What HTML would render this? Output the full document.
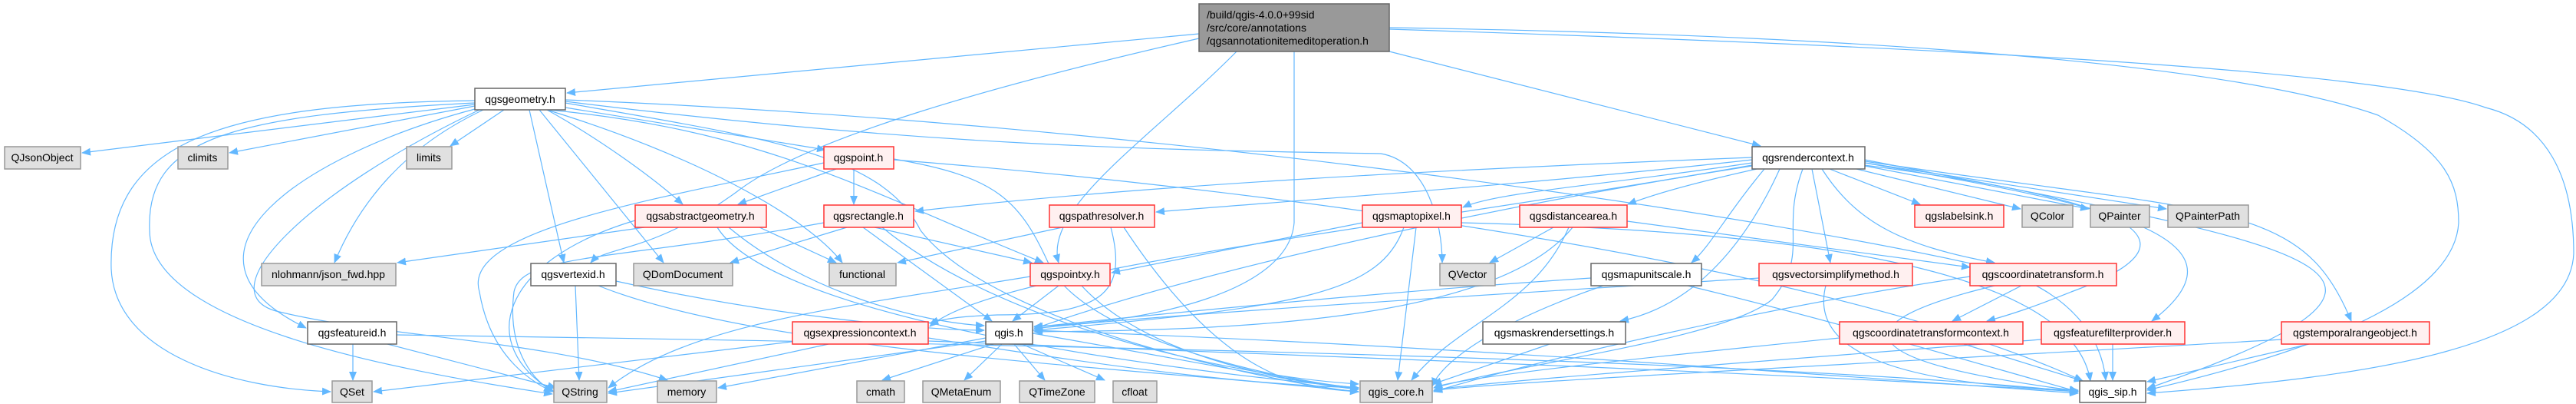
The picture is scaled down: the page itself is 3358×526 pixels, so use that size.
<!DOCTYPE html>
<html><head><meta charset="utf-8"><style>
html,body{margin:0;padding:0;background:#fff;}
svg{display:block;}
text{font-family:"Liberation Sans",sans-serif;font-size:14px;fill:#000;}
.e{fill:none;stroke:#63b8ff;stroke-width:1.2;}
.w{fill:#fff;stroke:#666;stroke-width:1.5;}
.r{fill:#fff0f0;stroke:#f33;stroke-width:1.5;}
.g{fill:#e0e0e0;stroke:#999;stroke-width:1.5;}
</style></head><body>
<svg width="3358" height="526" viewBox="0 0 3358 526" xmlns="http://www.w3.org/2000/svg">
<defs><marker id="a" markerWidth="12" markerHeight="10" refX="11" refY="5" orient="auto" markerUnits="userSpaceOnUse"><path d="M0,0 L12,5 L0,10 z" fill="#63b8ff"/></marker></defs>
<g class="e" marker-end="url(#a)">
<!-- build -->
<path d="M1563,44 L739,121"/>
<path d="M1563,50 C1300,110 1050,180 960,250 C850,330 790,320 770,342"/>
<path d="M1612,67 C1500,180 1360,270 1380,342"/>
<path d="M1687,67 L1687,290 C1680,380 1500,420 1348,425"/>
<path d="M1811,67 L2295,190"/>
<path d="M1811,36 C2400,45 2900,80 3100,150 C3190,200 3205,240 3205,290 C3200,380 3050,450 2799,508"/>
<path d="M1811,38 C2500,60 3100,90 3240,140 C3320,160 3355,230 3355,330 C3350,450 3100,490 2799,512"/>
<!-- geometry -->
<path d="M619,136 L107,199"/>
<path d="M619,138 L299,199"/>
<path d="M657,143 L587,190"/>
<path d="M630,143 C530,190 470,260 436,342"/>
<path d="M690,143 L735,342"/>
<path d="M703,143 L865,342"/>
<path d="M713,143 C780,180 850,230 890,266"/>
<path d="M737,140 L1076,195"/>
<path d="M713,143 C900,200 1050,280 1098,342"/>
<path d="M619,142 C400,200 200,330 399,427"/>
<path d="M619,131 C300,135 140,180 145,350 C150,460 300,505 431,510"/>
<path d="M619,134 C300,150 190,180 195,300 C195,420 500,480 720,513"/>
<path d="M625,143 C400,250 270,380 360,405 C500,440 700,440 870,495"/>
<path d="M737,134 C1000,180 1150,200 1200,300 C1300,430 1700,505 1771,510"/>
<path d="M737,130 C1500,160 2300,280 2600,350 C2700,380 2740,440 2745,495"/>
<path d="M737,132 C1200,190 1500,195 1800,200 C1860,210 1880,290 1880,342"/>
<path d="M715,143 C1000,170 1130,250 1360,342"/>
<!-- qgspoint -->
<path d="M1090,220 L962,266"/>
<path d="M1113,220 L1113,266"/>
<path d="M1074,212 C850,260 600,300 625,380 C640,470 700,500 720,510"/>
<path d="M1165,207 C1300,230 1330,260 1370,350 C1430,450 1700,500 1771,505"/>
<path d="M1165,208 C1700,250 2400,350 2715,496"/>
<!-- abstractgeometry -->
<path d="M840,296 L518,342"/>
<path d="M828,287 C650,340 620,450 722,510"/>
<path d="M950,296 C1050,380 1200,420 1283,424"/>
<path d="M990,296 L1090,342"/>
<path d="M935,296 C1000,400 1400,470 1771,505"/>
<!-- rectangle -->
<path d="M1104,296 L952,342"/>
<path d="M1074,290 C800,340 680,330 670,380 C660,460 700,500 722,510"/>
<path d="M1140,296 L1345,342"/>
<path d="M1125,296 L1293,418"/>
<path d="M1150,296 C1300,420 1600,490 1771,500"/>
<!-- pathresolver -->
<path d="M1385,296 L1170,342"/>
<path d="M1448,296 C1470,380 1440,410 1300,410 C1250,412 1230,415 1212,421"/>
<path d="M1465,296 C1600,500 1700,505 1771,510"/>
<!-- maptopixel -->
<path d="M1776,290 L1449,355"/>
<path d="M1830,296 C1800,380 1700,400 1348,430"/>
<path d="M1846,296 L1822,495"/>
<path d="M1905,290 C2300,300 2700,340 2725,496"/>
<!-- distancearea -->
<path d="M2025,296 L1942,342"/>
<path d="M2045,296 C2000,400 1900,420 1840,495"/>
<path d="M2121,288 L2568,348"/>
<path d="M2050,296 C1950,420 1600,430 1348,432"/>
<!-- pointxy -->
<path d="M1380,372 L1320,418"/>
<path d="M1343,360 C1100,400 900,420 793,505"/>
<path d="M1410,372 C1500,470 1700,500 1771,505"/>
<!-- vertexid -->
<path d="M750,372 L755,495"/>
<path d="M803,366 C1000,410 1200,430 1283,430"/>
<path d="M780,372 C1000,460 1500,480 1771,510"/>
<!-- featureid -->
<path d="M460,448 L460,495"/>
<path d="M505,448 L725,505"/>
<path d="M517,436 C1500,450 2300,470 2709,510"/>
<!-- expressioncontext -->
<path d="M1040,444 L487,510"/>
<path d="M1080,448 L793,510"/>
<path d="M1210,440 C1400,470 1600,500 1771,505"/>
<path d="M1210,444 C1900,470 2400,490 2709,510"/>
<!-- qgis.h -->
<path d="M1295,448 L1150,495"/>
<path d="M1306,448 L1257,495"/>
<path d="M1322,448 L1362,495"/>
<path d="M1332,448 L1440,495"/>
<path d="M1285,440 L936,505"/>
<path d="M1285,444 L793,512"/>
<path d="M1346,434 C1500,460 1700,500 1771,507"/>
<path d="M1346,430 C1900,450 2400,490 2709,512"/>
<!-- mapunitscale -->
<path d="M2074,362 C1800,380 1500,410 1348,426"/>
<path d="M2090,372 C1950,420 1880,470 1867,503"/>
<path d="M2200,372 C2400,420 2600,480 2709,510"/>
<!-- maskrendersettings -->
<path d="M2020,448 L1868,500"/>
<!-- rendercontext -->
<path d="M2385,220 L2503,266"/>
<path d="M2420,220 L2634,272"/>
<path d="M2431,216 L2723,272"/>
<path d="M2431,212 L2824,272"/>
<path d="M2362,220 L2386,342"/>
<path d="M2375,220 C2420,290 2480,320 2600,342"/>
<path d="M2430,215 C2700,250 2920,300 2700,380 C2650,400 2620,410 2590,418"/>
<path d="M2431,212 C2700,260 2960,300 2805,418"/>
<path d="M2431,210 C2900,280 3000,260 3065,418"/>
<path d="M2431,208 C3000,320 3250,350 2799,506"/>
<path d="M2350,220 C2320,300 2360,330 2310,390 C2250,440 2000,470 1869,505"/>
<path d="M2290,215 C2000,260 1600,340 1348,428"/>
<path d="M2284,205 C1900,220 1500,240 1193,275"/>
<path d="M2284,208 C2000,240 1700,260 1507,276"/>
<path d="M2284,212 C2100,240 1950,250 1907,270"/>
<path d="M2290,220 C2200,240 2150,255 2122,266"/>
<path d="M2300,220 C2250,280 2230,320 2205,342"/>
<path d="M2320,220 C2270,330 2200,400 2112,418"/>
<path d="M2284,215 C1800,300 1300,350 1212,425"/>
<!-- vectorsimplify -->
<path d="M2293,362 C2000,380 1500,410 1348,428"/>
<path d="M2380,372 C2360,450 2450,500 2709,508"/>
<!-- coordinatetransform -->
<path d="M2635,372 L2545,418"/>
<path d="M2568,360 C2300,400 2000,470 1869,510"/>
<path d="M2600,372 C2400,420 2400,470 2709,509"/>
<!-- ctcontext -->
<path d="M2560,448 L2715,496"/>
<path d="M2398,440 C2200,460 1900,490 1869,505"/>
<!-- featurefilter -->
<path d="M2754,448 L2754,495"/>
<path d="M2661,442 C2300,470 1900,500 1869,508"/>
<!-- temporal -->
<path d="M3010,448 L2799,497"/>
<path d="M2974,442 C2500,470 1900,500 1869,509"/>
</g>
<!-- nodes -->
<rect x="1563" y="5" width="248" height="62" fill="#999" stroke="#666" stroke-width="1.5"/>
<text x="1573" y="24">/build/qgis-4.0.0+99sid</text>
<text x="1573" y="41">/src/core/annotations</text>
<text x="1573" y="58">/qgsannotationitemeditoperation.h</text>
<g text-anchor="middle">
<rect class="w" x="619" y="115" width="118" height="28"/><text x="678" y="134">qgsgeometry.h</text>
<rect class="w" x="2284" y="191" width="147" height="29"/><text x="2357" y="210">qgsrendercontext.h</text>
<rect class="g" x="6" y="191" width="99" height="29"/><text x="55" y="210">QJsonObject</text>
<rect class="g" x="232" y="191" width="65" height="29"/><text x="264" y="210">climits</text>
<rect class="g" x="530" y="191" width="59" height="29"/><text x="559" y="210">limits</text>
<rect class="r" x="1074" y="191" width="91" height="29"/><text x="1119" y="210">qgspoint.h</text>
<rect class="r" x="828" y="267" width="171" height="29"/><text x="913" y="286">qgsabstractgeometry.h</text>
<rect class="r" x="1074" y="267" width="117" height="29"/><text x="1132" y="286">qgsrectangle.h</text>
<rect class="r" x="1368" y="267" width="137" height="29"/><text x="1436" y="286">qgspathresolver.h</text>
<rect class="r" x="1776" y="267" width="129" height="29"/><text x="1840" y="286">qgsmaptopixel.h</text>
<rect class="r" x="1981" y="267" width="140" height="29"/><text x="2051" y="286">qgsdistancearea.h</text>
<rect class="r" x="2496" y="267" width="116" height="29"/><text x="2554" y="286">qgslabelsink.h</text>
<rect class="g" x="2636" y="267" width="66" height="29"/><text x="2669" y="286">QColor</text>
<rect class="g" x="2725" y="267" width="77" height="29"/><text x="2763" y="286">QPainter</text>
<rect class="g" x="2826" y="267" width="105" height="29"/><text x="2878" y="286">QPainterPath</text>
<rect class="g" x="341" y="343" width="175" height="29"/><text x="428" y="362">nlohmann/json_fwd.hpp</text>
<rect class="w" x="692" y="343" width="111" height="29"/><text x="747" y="362">qgsvertexid.h</text>
<rect class="g" x="826" y="343" width="129" height="29"/><text x="890" y="362">QDomDocument</text>
<rect class="g" x="1081" y="343" width="87" height="29"/><text x="1124" y="362">functional</text>
<rect class="r" x="1343" y="343" width="104" height="29"/><text x="1395" y="362">qgspointxy.h</text>
<rect class="g" x="1877" y="343" width="72" height="29"/><text x="1913" y="362">QVector</text>
<rect class="w" x="2074" y="343" width="144" height="29"/><text x="2146" y="362">qgsmapunitscale.h</text>
<rect class="r" x="2293" y="343" width="200" height="29"/><text x="2393" y="362">qgsvectorsimplifymethod.h</text>
<rect class="r" x="2568" y="343" width="191" height="29"/><text x="2663" y="362">qgscoordinatetransform.h</text>
<rect class="w" x="401" y="419" width="116" height="29"/><text x="459" y="438">qgsfeatureid.h</text>
<rect class="r" x="1033" y="419" width="177" height="29"/><text x="1121" y="438">qgsexpressioncontext.h</text>
<rect class="w" x="1285" y="419" width="61" height="29"/><text x="1315" y="438">qgis.h</text>
<rect class="w" x="1933" y="419" width="186" height="29"/><text x="2026" y="438">qgsmaskrendersettings.h</text>
<rect class="r" x="2398" y="419" width="239" height="29"/><text x="2517" y="438">qgscoordinatetransformcontext.h</text>
<rect class="r" x="2661" y="419" width="187" height="29"/><text x="2754" y="438">qgsfeaturefilterprovider.h</text>
<rect class="r" x="2974" y="419" width="193" height="29"/><text x="3070" y="438">qgstemporalrangeobject.h</text>
<rect class="g" x="433" y="496" width="52" height="28"/><text x="459" y="515">QSet</text>
<rect class="g" x="722" y="496" width="69" height="28"/><text x="756" y="515">QString</text>
<rect class="g" x="857" y="496" width="77" height="28"/><text x="895" y="515">memory</text>
<rect class="g" x="1117" y="496" width="62" height="28"/><text x="1148" y="515">cmath</text>
<rect class="g" x="1203" y="496" width="101" height="28"/><text x="1253" y="515">QMetaEnum</text>
<rect class="g" x="1329" y="496" width="98" height="28"/><text x="1378" y="515">QTimeZone</text>
<rect class="g" x="1451" y="496" width="57" height="28"/><text x="1479" y="515">cfloat</text>
<rect class="g" x="1773" y="496" width="94" height="28"/><text x="1820" y="515">qgis_core.h</text>
<rect class="w" x="2711" y="496" width="86" height="28"/><text x="2754" y="515">qgis_sip.h</text>
</g>
</svg>
</body></html>
